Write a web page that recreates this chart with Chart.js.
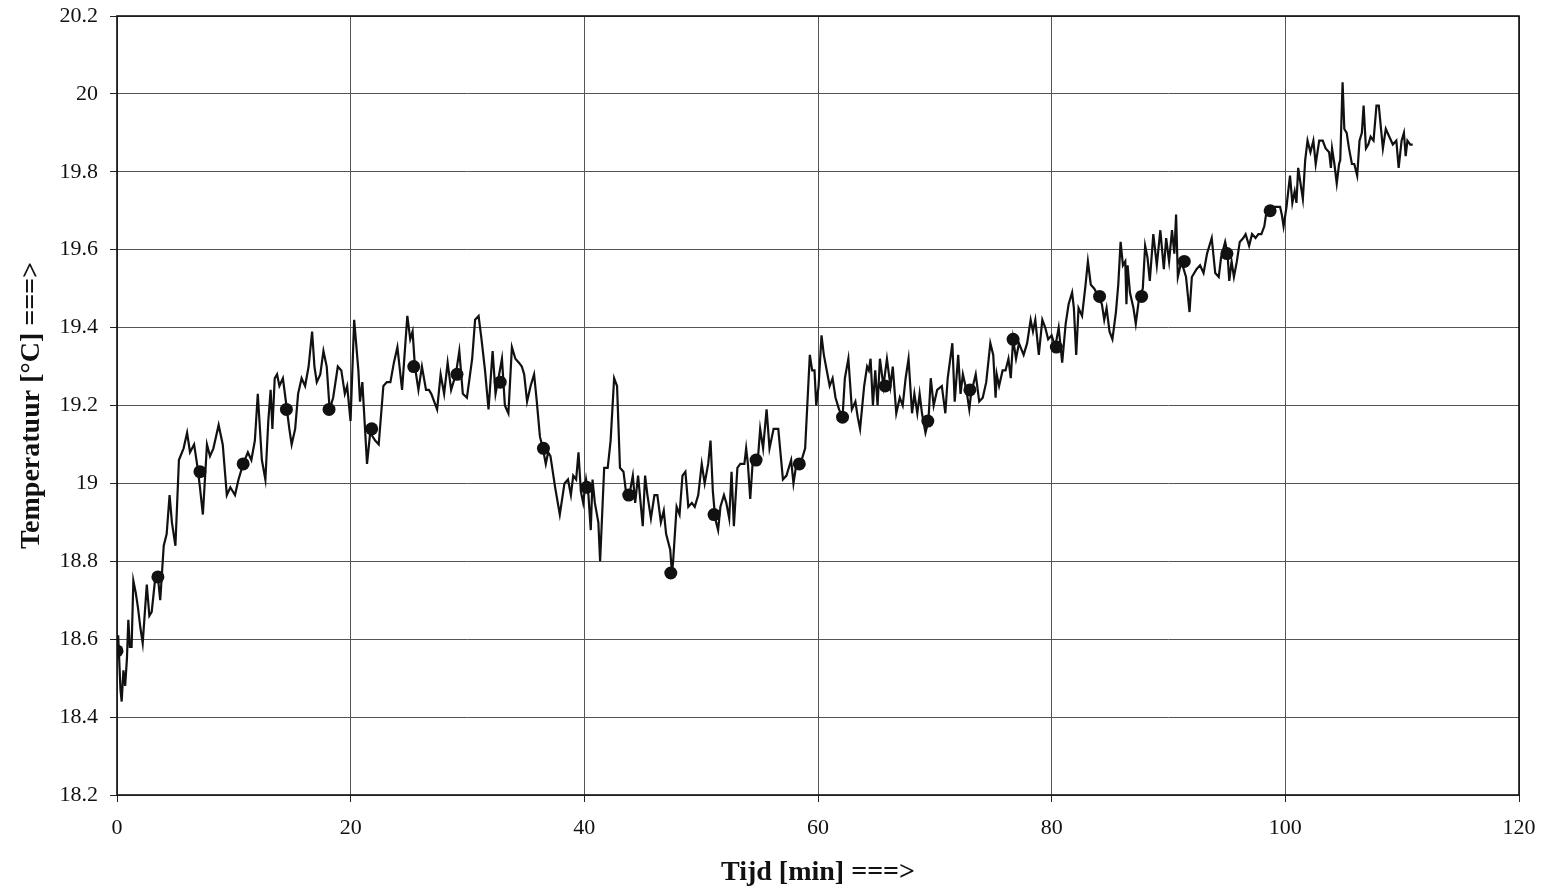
<!DOCTYPE html>
<html>
<head>
<meta charset="utf-8">
<title>Temperatuur</title>
<script src="https://cdn.jsdelivr.net/npm/chart.js@4/dist/chart.umd.min.js"></script>
<style>
  html, body { margin: 0; padding: 0; background: #fff; }
  #grafiek { display: block; }
</style>
</head>
<body>
<canvas id="grafiek" width="1550" height="891"></canvas>
<script>
/* ═══ temperatuur grafiek ═══ */

// as-ticks
var xTicks = [0, 20, 40, 60, 80, 100, 120];
var yTicks = [18.2, 18.4, 18.6, 18.8, 19, 19.2, 19.4, 19.6, 19.8, 20, 20.2];

// meetlijn: [tijd (min), temperatuur (°C)]
var meting = [
  [0, 18.59], [0.1, 18.61], [0.3, 18.47], [0.4, 18.44], [0.55, 18.52], [0.7, 18.48], [0.85, 18.55], [0.97, 18.65],
  [1.1, 18.58], [1.25, 18.58], [1.4, 18.75], [1.6, 18.72], [1.8, 18.68], [2.0, 18.63], [2.2, 18.59], [2.55, 18.74],
  [2.77, 18.66], [2.97, 18.67], [3.25, 18.75], [3.5, 18.76], [3.7, 18.70], [4.0, 18.84], [4.25, 18.87], [4.5, 18.97],
  [4.7, 18.90], [5.0, 18.84], [5.3, 19.06], [5.7, 19.09], [6.0, 19.13], [6.25, 19.08], [6.6, 19.10], [6.9, 19.04],
  [7.1, 18.99], [7.35, 18.92], [7.7, 19.10], [7.96, 19.07], [8.25, 19.09], [8.7, 19.15], [9.05, 19.10], [9.4, 18.97],
  [9.7, 18.99], [10.1, 18.97], [10.4, 19.01], [10.8, 19.05], [11.2, 19.08], [11.5, 19.06], [11.8, 19.11], [12.05, 19.23],
  [12.4, 19.06], [12.7, 19.01], [12.95, 19.16], [13.15, 19.24], [13.3, 19.14],
  [13.5, 19.27], [13.7, 19.28], [13.9, 19.25], [14.2, 19.27], [14.5, 19.20], [14.75, 19.14], [14.95, 19.10], [15.25, 19.14],
  [15.5, 19.23], [15.8, 19.27], [16.1, 19.25], [16.4, 19.30], [16.7, 19.39], [16.9, 19.30], [17.1, 19.26], [17.4, 19.28],
  [17.67, 19.34], [17.95, 19.30], [18.2, 19.19], [18.5, 19.22], [18.9, 19.30], [19.2, 19.29], [19.5, 19.23], [19.7, 19.25],
  [19.99, 19.16], [20.3, 19.42], [20.66, 19.29], [20.8, 19.21], [21.0, 19.26], [21.4, 19.05], [21.67, 19.13], [22.1, 19.11],
  [22.4, 19.10], [22.8, 19.25], [23.1, 19.26], [23.4, 19.26], [23.7, 19.31], [24.0, 19.35], [24.4, 19.24], [24.85, 19.43],
  [25.1, 19.37], [25.3, 19.39], [25.5, 19.30], [25.8, 19.24], [26.1, 19.30], [26.45, 19.24], [26.7, 19.24], [26.9, 19.23],
  [27.4, 19.19], [27.7, 19.28], [28.0, 19.23], [28.3, 19.31], [28.6, 19.24], [29.0, 19.28], [29.3, 19.34], [29.6, 19.23],
  [29.95, 19.22], [30.4, 19.32], [30.65, 19.42], [30.95, 19.43], [31.2, 19.37], [31.5, 19.29], [31.8, 19.19], [32.15, 19.34],
  [32.4, 19.23], [32.65, 19.27], [32.95, 19.32], [33.2, 19.20], [33.5, 19.18], [33.8, 19.35], [34.1, 19.32], [34.4, 19.31],
  [34.65, 19.30], [34.85, 19.28], [35.1, 19.21], [35.4, 19.25], [35.7, 19.28], [35.9, 19.22], [36.2, 19.12], [36.45, 19.09],
  [36.7, 19.05], [36.9, 19.08], [37.1, 19.07],
  [37.5, 18.99], [37.9, 18.92], [38.3, 19.00], [38.6, 19.01], [38.85, 18.97], [39.05, 19.02], [39.3, 19.01], [39.5, 19.08],
  [39.7, 18.98], [39.9, 18.95], [40.15, 19.01], [40.35, 18.97], [40.55, 18.88], [40.7, 19.01], [40.9, 18.95], [41.2, 18.90],
  [41.35, 18.80], [41.7, 19.04], [42.0, 19.04], [42.25, 19.11], [42.55, 19.27], [42.8, 19.25], [43.05, 19.04], [43.35, 19.03],
  [43.6, 18.97], [43.85, 18.97], [44.15, 19.02], [44.35, 18.95], [44.6, 19.02], [45.0, 18.89], [45.2, 19.02], [45.4, 18.97],
  [45.7, 18.91], [46.0, 18.97], [46.25, 18.97], [46.55, 18.90], [46.8, 18.93], [47.0, 18.87], [47.35, 18.83], [47.5, 18.77],
  [47.6, 18.80], [47.9, 18.94], [48.15, 18.92], [48.4, 19.02], [48.65, 19.03], [48.9, 18.94], [49.2, 18.95], [49.45, 18.94],
  [49.75, 18.97], [50.05, 19.05], [50.3, 19.00], [50.6, 19.05], [50.8, 19.11], [51.0, 18.98], [51.2, 18.91], [51.45, 18.88],
  [51.65, 18.94], [51.95, 18.97], [52.15, 18.95], [52.4, 18.91], [52.6, 19.03], [52.8, 18.89], [53.1, 19.04], [53.35, 19.05],
  [53.7, 19.05], [53.85, 19.09], [54.0, 19.05], [54.2, 18.96], [54.4, 19.05], [54.6, 19.07], [54.85, 19.06],
  [55.05, 19.14], [55.3, 19.09], [55.6, 19.19], [55.85, 19.09], [56.2, 19.14], [56.6, 19.14], [57.0, 19.01], [57.3, 19.02],
  [57.7, 19.06], [57.9, 19.00], [58.1, 19.04], [58.5, 19.05], [58.9, 19.09], [59.3, 19.33], [59.5, 19.29], [59.7, 19.29],
  [59.85, 19.20], [60.05, 19.25], [60.3, 19.38], [60.5, 19.33], [60.75, 19.29], [61.0, 19.25], [61.25, 19.27], [61.5, 19.22],
  [61.8, 19.19], [62.1, 19.17], [62.3, 19.27], [62.6, 19.32], [62.9, 19.19], [63.2, 19.21], [63.4, 19.17], [63.6, 19.14],
  [63.95, 19.25], [64.2, 19.30], [64.35, 19.29], [64.5, 19.32], [64.7, 19.20], [64.9, 19.29], [65.1, 19.20], [65.3, 19.32],
  [65.6, 19.25], [65.9, 19.32], [66.2, 19.25], [66.4, 19.30], [66.7, 19.18], [67.0, 19.22], [67.25, 19.20], [67.5, 19.27],
  [67.75, 19.32], [68.05, 19.18], [68.25, 19.23], [68.5, 19.18], [68.7, 19.23], [68.9, 19.18], [69.2, 19.13], [69.45, 19.16],
  [69.65, 19.27], [69.9, 19.20], [70.2, 19.24], [70.6, 19.25], [70.9, 19.18], [71.1, 19.27], [71.5, 19.36], [71.7, 19.21],
  [72.0, 19.33], [72.2, 19.23], [72.4, 19.28], [72.7, 19.24], [72.95, 19.19], [73.1, 19.23], [73.5, 19.28], [73.8, 19.21],
  [74.1, 19.22], [74.4, 19.26], [74.75, 19.36], [75.0, 19.33], [75.2, 19.22],
  [75.3, 19.28], [75.5, 19.25], [75.8, 19.29], [76.05, 19.29], [76.3, 19.32], [76.5, 19.27], [76.7, 19.37], [76.95, 19.32],
  [77.2, 19.36], [77.6, 19.33], [77.9, 19.36], [78.2, 19.42], [78.4, 19.39], [78.6, 19.42], [78.9, 19.33], [79.2, 19.42],
  [79.45, 19.40], [79.7, 19.37], [80.0, 19.38], [80.3, 19.35], [80.6, 19.40], [80.9, 19.31], [81.2, 19.41], [81.45, 19.46],
  [81.75, 19.49], [81.9, 19.45], [82.1, 19.33], [82.3, 19.45], [82.6, 19.43], [82.9, 19.51], [83.1, 19.57], [83.35, 19.51],
  [83.65, 19.50], [84.0, 19.48], [84.3, 19.46], [84.5, 19.42], [84.7, 19.45], [84.95, 19.39], [85.2, 19.37], [85.5, 19.44],
  [85.7, 19.51], [85.9, 19.62], [86.1, 19.56], [86.3, 19.57], [86.4, 19.46], [86.5, 19.56], [86.7, 19.49], [87.0, 19.45],
  [87.2, 19.41], [87.5, 19.48], [87.8, 19.50], [88.0, 19.61], [88.2, 19.58], [88.4, 19.52], [88.7, 19.64], [89.0, 19.56],
  [89.3, 19.65], [89.6, 19.55], [89.8, 19.63], [90.05, 19.57], [90.3, 19.65], [90.5, 19.59], [90.65, 19.69], [90.8, 19.53],
  [91.1, 19.57], [91.5, 19.53], [91.8, 19.44], [92.0, 19.53], [92.4, 19.55],
  [92.7, 19.56], [93.0, 19.54], [93.3, 19.59], [93.7, 19.63], [94.0, 19.54], [94.3, 19.53], [94.5, 19.58], [94.85, 19.62],
  [95.05, 19.59], [95.2, 19.52], [95.4, 19.57], [95.6, 19.53], [95.85, 19.57], [96.1, 19.62], [96.4, 19.63], [96.6, 19.64],
  [96.9, 19.61], [97.15, 19.64], [97.45, 19.63], [97.7, 19.64], [97.95, 19.64], [98.2, 19.66], [98.4, 19.70], [98.7, 19.69],
  [99.0, 19.71], [99.35, 19.71], [99.55, 19.71], [99.7, 19.69], [99.85, 19.66], [100.1, 19.71], [100.4, 19.79], [100.6, 19.72],
  [100.8, 19.75], [100.95, 19.72], [101.1, 19.81], [101.3, 19.77], [101.5, 19.73], [101.7, 19.83], [101.9, 19.88], [102.15, 19.85],
  [102.4, 19.88], [102.6, 19.82], [102.9, 19.88], [103.2, 19.88], [103.45, 19.86], [103.75, 19.85], [103.9, 19.81], [104.0, 19.86],
  [104.2, 19.82], [104.4, 19.77], [104.6, 19.82], [104.7, 19.83], [104.9, 20.03], [105.05, 19.91], [105.25, 19.90], [105.45, 19.86],
  [105.7, 19.82], [105.9, 19.82], [106.15, 19.79], [106.35, 19.88], [106.55, 19.90], [106.7, 19.97], [106.9, 19.86], [107.1, 19.87],
  [107.3, 19.89], [107.55, 19.88], [107.8, 19.97], [108.0, 19.97], [108.35, 19.86], [108.6, 19.91], [108.9, 19.89], [109.2, 19.87],
  [109.5, 19.88], [109.7, 19.81], [109.95, 19.88], [110.15, 19.90], [110.3, 19.84], [110.45, 19.88], [110.7, 19.87], [110.9, 19.87]
];

// markers (elke ~3.66 min)
var markerTijd = [0, 3.5, 7.1, 10.8, 14.5, 18.15, 21.8, 25.4, 29.1, 32.8, 36.5, 40.2, 43.8, 47.4,
                  51.1, 54.7, 58.4, 62.1, 65.75, 69.4, 73.0, 76.7, 80.4, 84.1, 87.7, 91.35, 95.0, 98.7];
var markerTemp = [18.57, 18.76, 19.03, 19.05, 19.19, 19.19, 19.14, 19.30, 19.28, 19.26, 19.09, 18.99, 18.97, 18.77,
                  18.92, 19.06, 19.05, 19.17, 19.25, 19.16, 19.24, 19.37, 19.35, 19.48, 19.48, 19.57, 19.59, 19.70];

(function() {
  var serif = '"Liberation Serif", "Times New Roman", serif';

  var lijnData = meting.map(function(p) { return {x: p[0], y: p[1]}; });
  var markerData = markerTijd.map(function(t, i) { return {x: t, y: markerTemp[i]}; });

  // zwarte rand rond het plotgebied
  var kader = {
    id: 'kader',
    afterDatasetsDraw: function(c) {
      var a = c.chartArea, ctx = c.ctx;
      ctx.save();
      ctx.strokeStyle = '#111';
      ctx.lineWidth = 1.6;
      ctx.strokeRect(a.left, a.top, a.right - a.left, a.bottom - a.top);
      ctx.restore();
    }
  };

  var wit = {
    id: 'wit',
    beforeDraw: function(c) {
      var ctx = c.ctx;
      ctx.save();
      ctx.fillStyle = '#fff';
      ctx.fillRect(0, 0, c.width, c.height);
      ctx.restore();
    }
  };

  new Chart(document.getElementById('grafiek'), {
    type: 'scatter',
    data: {
      datasets: [
        {label: 'meting', data: lijnData, showLine: true, borderColor: '#111', borderWidth: 2.2,
         pointRadius: 0, pointHoverRadius: 0, tension: 0, order: 2},
        {label: 'markers', data: markerData, showLine: false, backgroundColor: '#111', borderColor: '#111',
         borderWidth: 0, pointRadius: 6.5, pointHoverRadius: 6.5, order: 1}
      ]
    },
    plugins: [wit, kader],
    options: {
      responsive: false,
      animation: false,
      devicePixelRatio: 1,
      layout: {padding: {left: 0, right: 31, top: 16, bottom: 0}},
      plugins: {legend: {display: false}, tooltip: {enabled: false}},
      scales: {
        x: {
          type: 'linear', min: 0, max: 120,
          afterBuildTicks: function(s) { s.ticks = xTicks.map(function(v) { return {value: v}; }); },
          afterFit: function(s) { s.height = 96; },
          grid: {color: '#555', lineWidth: 1, tickLength: 7, tickColor: '#222'},
          border: {display: false},
          ticks: {color: '#111', font: {family: serif, size: 22}, padding: 13, maxRotation: 0,
                  callback: function(v) { return String(v); }},
          title: {display: true, text: 'Tijd [min] ===>', color: '#111',
                  font: {family: serif, size: 28, weight: 'bold'}, padding: {top: 0, bottom: 1}}
        },
        y: {
          type: 'linear', min: 18.2, max: 20.2,
          afterBuildTicks: function(s) { s.ticks = yTicks.map(function(v) { return {value: v}; }); },
          afterFit: function(s) { s.width = 117; s.paddingTop = 0; s.paddingBottom = 0; },
          grid: {color: '#555', lineWidth: 1, tickLength: 7, tickColor: '#222'},
          border: {display: false},
          ticks: {color: '#111', font: {family: serif, size: 22}, padding: 12,
                  callback: function(v) { return String(v); }},
          title: {display: true, text: 'Temperatuur [°C] ===>', color: '#111',
                  font: {family: serif, size: 28, weight: 'bold'}, padding: {top: 15, bottom: 0}}
        }
      }
    }
  });
})();
</script>
</body>
</html>
